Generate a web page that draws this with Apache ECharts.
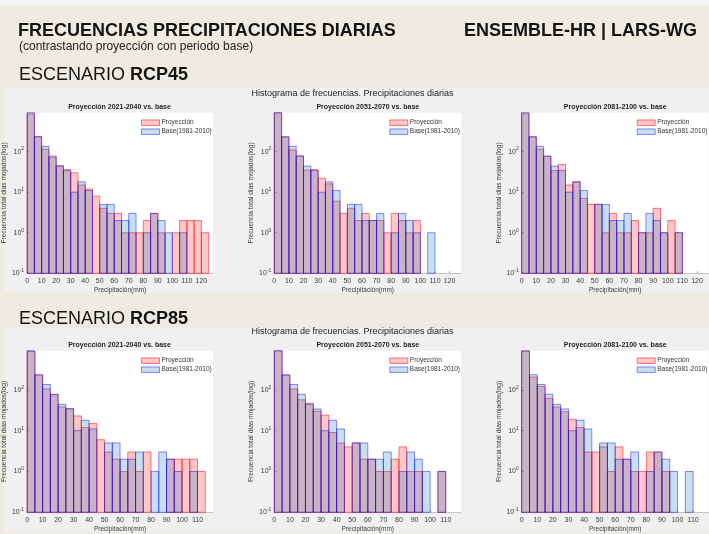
<!DOCTYPE html>
<html>
<head>
<meta charset="utf-8">
<title>Frecuencias precipitaciones diarias</title>
<script src="https://cdn.jsdelivr.net/npm/echarts@6/dist/echarts.min.js"></script>
<style>
  html, body { margin: 0; padding: 0; background: #eeece1; }
  #chart { width: 709px; height: 534px; }
</style>
</head>
<body>
<div id="chart"></div>
<script>
  // histogram counts per 5 mm bin (0-5, 5-10, ...)
  var binWidth = 5;
  var base = [910, 235, 135, 78, 44, 34, 10, 18, 11, 0, 5, 5, 2, 2, 3, 0, 1, 3, 2, 1, 0, 1];
  var rcp45_2021 = [850, 230, 114, 72, 45, 36, 30, 15, 12, 8, 4, 3, 3, 1, 1, 1, 2, 3, 1, 0, 1, 2, 2, 2, 1];
  var rcp45_2051 = [900, 225, 110, 78, 35, 36, 22, 16, 6, 3, 4, 2, 3, 2, 2, 1, 3, 2, 1, 2, 0, 0];
  var rcp45_2081 = [860, 225, 115, 76, 34, 48, 15, 18, 7, 5, 5, 1, 3, 1, 1, 2, 1, 1, 4, 1, 2, 1];
  var rcp85_2021 = [870, 230, 106, 76, 38, 35, 23, 12, 15, 6, 3, 2, 1, 3, 1, 3, 0, 0, 2, 2, 2, 2, 1];
  var rcp85_2051 = [900, 228, 106, 57, 47, 30, 24, 9, 5, 4, 5, 2, 2, 1, 1, 2, 4, 1, 1, 0, 0, 1];
  var rcp85_2081 = [880, 205, 121, 62, 38, 29, 19, 12, 3, 3, 4, 1, 4, 2, 1, 1, 3, 3, 1, 0, 0, 0];

  var periods = ['2021-2040', '2051-2070', '2081-2100'];
  var scenarios = ['RCP45', 'RCP85'];
  var projections = [[rcp45_2021, rcp45_2051, rcp45_2081], [rcp85_2021, rcp85_2051, rcp85_2081]];
  var xMax = [128, 120];
  var xInterval = 10;
  var yMin = 0.1;
  var yMax = 910;

  var FONT = '"Liberation Sans", Arial, sans-serif';
  var rowTop = [112.7, 350.7];
  var rowH = [160.6, 161.6];
  var colLeft = [26, 274.3, 521.7];
  var plotW = 187;

  var redStyle = {color: 'rgba(255,0,0,0.22)', borderColor: 'rgba(255,0,0,0.5)', borderWidth: 1};
  var blueStyle = {color: 'rgba(0,114,189,0.22)', borderColor: 'rgba(0,0,255,0.45)', borderWidth: 1};

  var myChart = echarts.init(document.getElementById('chart'));

  function renderBin(params, api) {
    var x0 = api.value(0);
    var n = api.value(1);
    var tl = api.coord([x0, n]);
    var br = api.coord([x0 + binWidth, yMin]);
    return {
      type: 'rect',
      shape: {x: tl[0], y: tl[1], width: br[0] - tl[0], height: br[1] - tl[1]},
      style: api.style()
    };
  }

  function binData(arr) {
    var out = [];
    arr.forEach(function (v, k) {
      if (v > 0) out.push([k * binWidth, v]);
    });
    return out;
  }

  var grids = [], xAxes = [], yAxes = [], series = [], legends = [];
  var graphics = [
    {type: 'rect', z: -10, shape: {x: 0, y: 0, width: 709, height: 5}, style: {fill: '#f4f4f4'}},
    {type: 'rect', z: -10, shape: {x: 4, y: 87, width: 705, height: 205}, style: {fill: '#f0f0f0'}},
    {type: 'rect', z: -10, shape: {x: 4, y: 328, width: 705, height: 204}, style: {fill: '#f0f0f0'}},
    {type: 'text', x: 18, y: 31, style: {text: 'FRECUENCIAS PRECIPITACIONES DIARIAS', fontFamily: FONT, fontSize: 18, fontWeight: 'bold', fill: '#141414', align: 'left', verticalAlign: 'middle'}},
    {type: 'text', x: 697, y: 31, style: {text: 'ENSEMBLE-HR | LARS-WG', fontFamily: FONT, fontSize: 18, fontWeight: 'bold', fill: '#141414', align: 'right', verticalAlign: 'middle'}},
    {type: 'text', x: 19, y: 47, style: {text: '(contrastando proyección con periodo base)', fontFamily: FONT, fontSize: 12, fill: '#222', align: 'left', verticalAlign: 'middle'}}
  ];

  scenarios.forEach(function (sc, r) {
    graphics.push({
      type: 'text', x: 19, y: r === 0 ? 75 : 319,
      style: {
        text: '{a|ESCENARIO }{b|' + sc + '}', align: 'left', verticalAlign: 'middle',
        rich: {
          a: {fontFamily: FONT, fontSize: 18, fill: '#141414'},
          b: {fontFamily: FONT, fontSize: 18, fontWeight: 'bold', fill: '#141414'}
        }
      }
    });
    graphics.push({
      type: 'text', x: 352.5, y: rowTop[r] - 18.8,
      style: {text: 'Histograma de frecuencias. Precipitaciones diarias', fontFamily: FONT, fontSize: 9, fill: '#222', align: 'center', verticalAlign: 'middle'}
    });

    periods.forEach(function (per, c) {
      var i = grids.length;
      var left = colLeft[c];
      var top = rowTop[r];

      grids.push({left: left, top: top, width: plotW, height: rowH[r], show: true, backgroundColor: '#fff', borderWidth: 0});

      xAxes.push({
        gridIndex: i, type: 'value', min: 0, max: xMax[r], interval: xInterval,
        name: 'Precipitación(mm)', nameLocation: 'middle', nameGap: 13,
        nameTextStyle: {fontFamily: FONT, fontSize: 6.5, color: '#3c3c3c'},
        axisLine: {show: true, onZero: false, lineStyle: {color: '#c4c4c4', width: 1}},
        axisTick: {show: true, inside: true, length: 2, lineStyle: {color: '#aaa'}},
        axisLabel: {fontFamily: FONT, fontSize: 7, color: '#3c3c3c', margin: 4, showMaxLabel: false},
        splitLine: {show: false}
      });

      yAxes.push({
        gridIndex: i, type: 'log', logBase: 10, min: yMin, max: yMax,
        name: 'Frecuencia total días mojados(log)', nameLocation: 'middle', nameGap: 16, nameRotate: 90,
        nameTextStyle: {fontFamily: FONT, fontSize: 6.6, color: '#3c3c3c'},
        axisLine: {show: true, lineStyle: {color: '#c4c4c4', width: 1}},
        axisTick: {show: true, inside: true, length: 2, lineStyle: {color: '#aaa'}},
        axisLabel: {
          fontFamily: FONT, fontSize: 7, color: '#3c3c3c', margin: 3, showMaxLabel: false,
          formatter: function (v) {
            return '10{s|' + Math.round(Math.log(v) / Math.LN10) + '}';
          },
          rich: {s: {fontFamily: FONT, fontSize: 5, color: '#3c3c3c', padding: [0, 0, 5, 0]}}
        },
        splitLine: {show: false}
      });

      series.push({
        name: 'Proyección', type: 'custom', xAxisIndex: i, yAxisIndex: i,
        renderItem: renderBin, itemStyle: redStyle, silent: true,
        encode: {x: 0, y: 1}, data: binData(projections[r][c])
      });
      series.push({
        name: 'Base(1981-2010)', type: 'custom', xAxisIndex: i, yAxisIndex: i,
        renderItem: renderBin, itemStyle: blueStyle, silent: true,
        encode: {x: 0, y: 1}, data: binData(base)
      });

      legends.push({
        left: left + 115, top: top + 6, orient: 'vertical', padding: 0, itemGap: 1,
        itemWidth: 18, itemHeight: 5.5, selectedMode: false,
        textStyle: {fontFamily: FONT, fontSize: 6.5, color: '#333', lineHeight: 8, padding: [0, 0, 0, -3]},
        data: [
          {name: 'Proyección', icon: 'rect', itemStyle: redStyle},
          {name: 'Base(1981-2010)', icon: 'rect', itemStyle: blueStyle}
        ]
      });

      graphics.push({
        type: 'text', x: left + plotW / 2, y: top - 5.5,
        style: {text: 'Proyección ' + per + ' vs. base', fontFamily: FONT, fontSize: 7, fontWeight: 'bold', fill: '#1e1e1e', align: 'center', verticalAlign: 'middle'}
      });
    });
  });

  myChart.setOption({
    animation: false,
    backgroundColor: '#eeece1',
    textStyle: {fontFamily: FONT},
    graphic: {elements: graphics},
    grid: grids,
    xAxis: xAxes,
    yAxis: yAxes,
    legend: legends,
    series: series
  });
</script>
</body>
</html>
